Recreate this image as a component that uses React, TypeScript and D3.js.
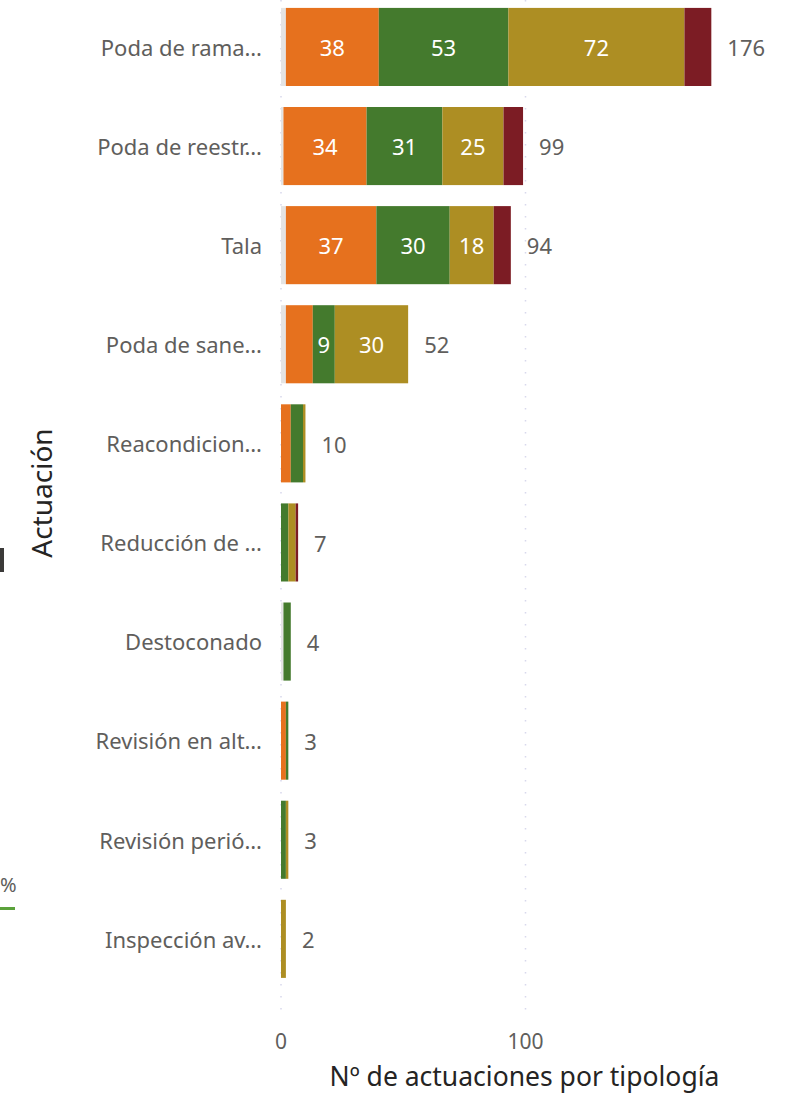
import React from "react";
import * as d3 from "d3";

const categories = [
  "Poda de rama…",
  "Poda de reestr…",
  "Tala",
  "Poda de sane…",
  "Reacondicion…",
  "Reducción de …",
  "Destoconado",
  "Revisión en alt…",
  "Revisión perió…",
  "Inspección av…",
];

const seriesKeys = ["sin", "a", "b", "c", "d"];
const seriesColors = ["#e4e4e4", "#e6711e", "#447a2d", "#ad8e23", "#7c1c24"];

const sinValues = [2, 1, 2, 2, 0, 0, 1, 0, 0, 0];
const aValues = [38, 34, 37, 11, 4, 0, 0, 2, 0, 0];
const bValues = [53, 31, 30, 9, 5, 3, 3, 1, 2, 0];
const cValues = [72, 25, 18, 30, 1, 3, 0, 0, 1, 2];
const dValues = [11, 8, 7, 0, 0, 1, 0, 0, 0, 0];

const xTicks = [0, 100];
const xTitle = "Nº de actuaciones por tipología";
const yTitle = "Actuación";

const W = 800;
const H = 1094;
const FONT = "'Segoe UI', 'Noto Sans', 'Open Sans', sans-serif";

export default function App() {
  const seriesValues = [sinValues, aValues, bValues, cValues, dValues];
  const rows = categories.map((cat, i) => {
    const r: any = { cat };
    seriesKeys.forEach((k, j) => (r[k] = seriesValues[j][i]));
    return r;
  });
  const stack = d3.stack<any>().keys(seriesKeys)(rows);
  const totals = rows.map((r) => d3.sum(seriesKeys, (k) => r[k]));

  const x = d3.scaleLinear().domain([0, 180]).range([281, 281 + 180 * 2.445]);
  const y = d3
    .scaleBand<string>()
    .domain(categories)
    .range([-2.6, 988.4])
    .paddingInner(0.212)
    .paddingOuter(0.106);
  const bw = y.bandwidth();

  return (
    <svg
      width={W}
      height={H}
      style={{ position: "absolute", left: 0, top: 0, fontFamily: FONT }}
    >
      <rect x={0} y={0} width={W} height={H} fill="#ffffff" />
      {/* clipped neighbour visual remnants */}
      <rect x={0} y={548} width={4} height={24} fill="#3b3a39" />
      <text x={0} y={892} fontSize={20} fill="#605e5c">%</text>
      <rect x={0} y={907} width={15} height={3} fill="#5ba23b" />

      {/* gridlines */}
      {xTicks.map((t) => (
        <line
          key={"g" + t}
          x1={x(t)}
          x2={x(t)}
          y1={0}
          y2={1020}
          stroke="#d8d8ec"
          strokeWidth={1.5}
          strokeDasharray="1.5 10.5"
        />
      ))}

      {/* bars */}
      {stack.map((s, si) => (
        <g key={s.key} fill={seriesColors[si]}>
          {s.map((d, i) =>
            d[1] - d[0] > 0 ? (
              <rect
                key={i}
                x={x(d[0])}
                y={y(categories[i])}
                width={x(d[1]) - x(d[0])}
                height={bw}
              />
            ) : null
          )}
        </g>
      ))}

      {/* segment labels */}
      {stack.map((s) =>
        s.map((d, i) => {
          const v = d[1] - d[0];
          const w = x(d[1]) - x(d[0]);
          const tw = String(v).length * 11;
          if (v <= 0 || tw + 10 > w) return null;
          return (
            <text
              key={s.key + i}
              x={(x(d[0]) + x(d[1])) / 2}
              y={(y(categories[i]) as number) + bw / 2}
              dy="0.42em"
              textAnchor="middle"
              fontSize={22}
              fill="#ffffff"
            >
              {v}
            </text>
          );
        })
      )}

      {/* totals */}
      {categories.map((c, i) => (
        <text
          key={"t" + c}
          x={x(totals[i]) + 16}
          y={(y(c) as number) + bw / 2}
          dy="0.42em"
          fontSize={22}
          fill="#605e5c"
        >
          {totals[i]}
        </text>
      ))}

      {/* category labels */}
      {categories.map((c) => (
        <text
          key={"c" + c}
          x={262}
          y={(y(c) as number) + bw / 2}
          dy="0.4em"
          textAnchor="end"
          fontSize={22}
          fill="#605e5c"
        >
          {c}
        </text>
      ))}

      {/* x ticks */}
      {xTicks.map((t) => (
        <text
          key={"xt" + t}
          x={x(t)}
          y={1042}
          dy="0.35em"
          textAnchor="middle"
          fontSize={21}
          fill="#605e5c"
        >
          {t}
        </text>
      ))}

      <text
        x={524.5}
        y={1086}
        textAnchor="middle"
        fontSize={26.5}
        fill="#252423"
      >
        {xTitle}
      </text>
      <text
        transform="translate(42,493) rotate(-90)"
        dy="0.35em"
        textAnchor="middle"
        fontSize={28}
        fill="#252423"
      >
        {yTitle}
      </text>
    </svg>
  );
}
